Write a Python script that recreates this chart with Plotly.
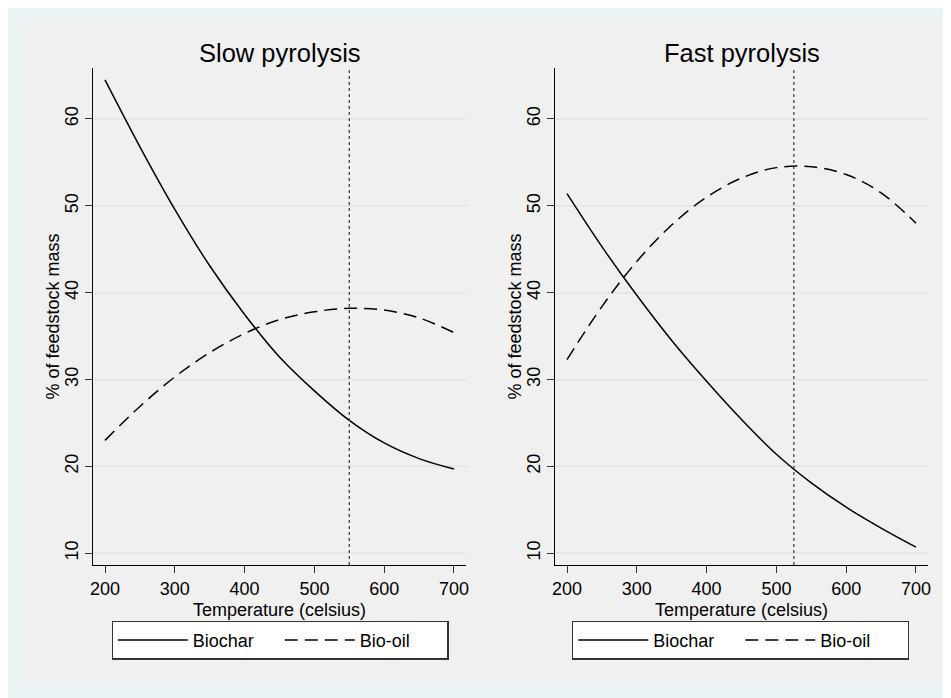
import plotly.graph_objects as go

# ---- data ----
temperature = [200, 250, 300, 350, 400, 450, 500, 550, 600, 650, 700]
slow_biochar = [64.5, 56.8, 49.6, 43.1, 37.5, 32.6, 28.7, 25.3, 22.7, 20.9, 19.7]
slow_biooil = [23.0, 26.9, 30.3, 33.1, 35.3, 36.9, 37.8, 38.2, 38.0, 37.1, 35.4]
fast_biochar = [51.4, 45.3, 39.7, 34.5, 29.8, 25.4, 21.4, 18.1, 15.3, 12.9, 10.7]
fast_biooil = [32.3, 38.4, 43.6, 47.8, 51.0, 53.2, 54.4, 54.5, 53.6, 51.5, 48.0]
panel_titles = ["Slow pyrolysis", "Fast pyrolysis"]
optimum_temp = [550, 525]
x_ticks = [200, 300, 400, 500, 600, 700]
y_ticks = [10, 20, 30, 40, 50, 60]
series_names = ["Biochar", "Bio-oil"]
x_title = "Temperature (celsius)"
y_title = "% of feedstock mass"

W, H = 951, 698
OFF = 8  # page body margin offset (pixels)
FONT = "Liberation Sans, Arial, Helvetica, sans-serif"
FS = 18


def px(x):
    return (x - OFF) / W


def py(y):
    return 1 - (y - OFF) / H


fig = go.Figure()

panels = [
    (slow_biochar, slow_biooil, "x", "y", "legend"),
    (fast_biochar, fast_biooil, "x2", "y2", "legend2"),
]
for biochar, biooil, xa, ya, lg in panels:
    fig.add_trace(go.Scatter(x=temperature, y=biochar, mode="lines", name=series_names[0],
                             line=dict(color="black", width=1.5, shape="spline"),
                             xaxis=xa, yaxis=ya, legend=lg))
    fig.add_trace(go.Scatter(x=temperature, y=biooil, mode="lines", name=series_names[1],
                             line=dict(color="black", width=1.5, shape="spline", dash="13px,7px"),
                             xaxis=xa, yaxis=ya, legend=lg))

# domains in paper coordinates
dom_y = [py(565), py(68)]
dom_x1 = [px(93), px(466)]
dom_x2 = [px(555), px(928)]

axis_common = dict(
    showline=True, linecolor="black", linewidth=1.3,
    ticks="outside", ticklen=7, tickwidth=1.3, tickcolor="#333333",
    tickfont=dict(size=FS, color="black", family=FONT),
    zeroline=False, mirror=False, automargin=False,
)
xcommon = dict(axis_common, range=[182.8, 717.2], tickvals=x_ticks, showgrid=False)
ycommon = dict(axis_common, range=[8.65, 65.87], tickvals=y_ticks, showgrid=True,
               gridcolor="#E6E6E6", gridwidth=1.5, tickangle=-90)

legend_common = dict(orientation="h", y=py(640), xanchor="center", yanchor="middle",
                     bgcolor="white", bordercolor="#333333", borderwidth=1.3,
                     font=dict(size=FS, color="black", family=FONT), itemwidth=70,
                     entrywidth=82, entrywidthmode="pixels")

fig.update_layout(
    template="none",
    width=W, height=H,
    margin=dict(l=0, r=0, t=0, b=0),
    paper_bgcolor="#EAF2F3",
    plot_bgcolor="white",
    font=dict(family=FONT, color="black", size=FS),
    xaxis=dict(xcommon, domain=dom_x1, anchor="y"),
    yaxis=dict(ycommon, domain=dom_y, anchor="x"),
    xaxis2=dict(xcommon, domain=dom_x2, anchor="y2"),
    yaxis2=dict(ycommon, domain=dom_y, anchor="x2"),
    legend=dict(legend_common, x=px((116 + 444) / 2)),
    legend2=dict(legend_common, x=px((577 + 904) / 2)),
    showlegend=True,
)

# inner gray panel
fig.add_shape(type="rect", xref="paper", yref="paper", x0=px(23), x1=px(944), y0=py(682), y1=py(19),
              fillcolor="#F0F0F0", line=dict(width=0), layer="below")

# vertical dotted reference lines at the optimum temperature
for t, xa, ya in zip(optimum_temp, ["x", "x2"], ["y", "y2"]):
    fig.add_shape(type="line", xref=xa, yref=ya + " domain", x0=t, x1=t, y0=0, y1=1,
                  line=dict(color="#444444", width=1.3, dash="dot"))

# panel titles and axis titles
for title, dom, ylab_x in zip(panel_titles, [dom_x1, dom_x2], [px(52), px(514)]):
    xc = (dom[0] + dom[1]) / 2
    fig.add_annotation(text=title, xref="paper", yref="paper", x=xc, y=py(53),
                       xanchor="center", yanchor="middle", showarrow=False,
                       font=dict(size=25.5, color="black", family=FONT))
    fig.add_annotation(text=x_title, xref="paper", yref="paper", x=xc, y=py(610),
                       xanchor="center", yanchor="middle", showarrow=False,
                       font=dict(size=FS, color="black", family=FONT))
    fig.add_annotation(text=y_title, xref="paper", yref="paper", x=ylab_x, y=(dom_y[0] + dom_y[1]) / 2,
                       xanchor="center", yanchor="middle", showarrow=False, textangle=-90,
                       font=dict(size=FS, color="black", family=FONT))

fig.write_html("out.html")
